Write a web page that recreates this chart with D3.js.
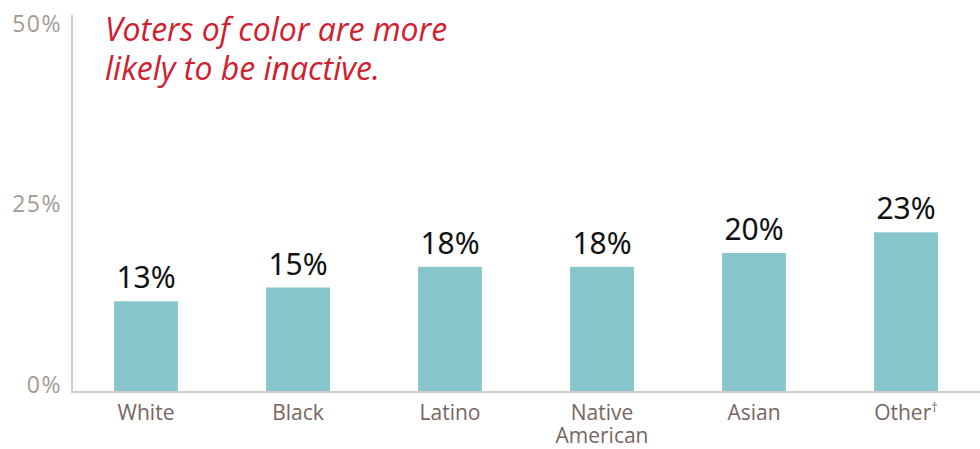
<!DOCTYPE html>
<html lang="en">
<head>
    <meta charset="utf-8">
    <title>Inactive voters</title>
    <script src="https://d3js.org/d3.v7.min.js" charset="utf-8"></script>
    <style type="text/css">
        body { margin: 0; background: white; }
        .tick-label { fill: #a39a93; font-family: "Open Sans", sans-serif; font-size: 23px; letter-spacing: 1.5px; }
        .cat-label { fill: #76665f; font-family: "Open Sans", sans-serif; font-size: 21px; }
        .value { fill: #111; font-family: "Noto Sans", sans-serif; font-size: 30px; }
        .title { fill: #d0202f; font-family: "Open Sans", sans-serif; font-style: italic; font-size: 32px; }
    </style>
</head>
<body>
    <div id="main"></div>
    <script type="text/javascript">
        var categories = ["White", "Black", "Latino", "Native American", "Asian", "Other"];
        var categoryLines = [["White"], ["Black"], ["Latino"], ["Native", "American"], ["Asian"], ["Other"]];
        var values = [13, 15, 18, 18, 20, 23];
        var valueLabels = ["13%", "15%", "18%", "18%", "20%", "23%"];
        var tickValues = [0, 25, 50];
        var tickLabels = ["0%", "25%", "50%"];
        var titleLines = ["Voters of color are more", "likely to be inactive."];

        var width = 980;
        var height = 449;

        var svg = d3.select("div#main")
                    .append("svg")
                    .attr("width", width)
                    .attr("height", height)

        var x = d3.scaleBand()
            .domain(categories)
            .range([70, 982])
            .paddingInner(0.58)
            .paddingOuter(0.29)

        // bars use this one
        var y = d3.scaleLinear().domain([0, 50]).range([391, 46])
        // tick labels sit a little higher than the bar scale
        var yTick = d3.scaleLinear().domain([0, 50]).range([385, 24])

        var data = categories.map(function(c, i){ return {cat: c, value: values[i], label: valueLabels[i], lines: categoryLines[i]} })

        svg.append("g").selectAll("rect")
            .data(data)
            .enter()
            .append("rect")
            .attr("x", function(d){ return x(d.cat) })
            .attr("width", x.bandwidth())
            .attr("y", function(d){ return y(d.value) })
            .attr("height", function(d){ return y(0) - y(d.value) })
            .attr("fill", "#86c6ca")

        // axis lines
        svg.append("line")
            .attr("x1", 72).attr("x2", 72)
            .attr("y1", 15).attr("y2", y(0) + 1)
            .attr("stroke", "#d3cbc8").attr("stroke-width", 2)
        svg.append("line")
            .attr("x1", 71).attr("x2", width)
            .attr("y1", y(0) + 1).attr("y2", y(0) + 1)
            .attr("stroke", "#d3cbc8").attr("stroke-width", 2)

        var yAxis = d3.axisLeft(yTick)
            .tickValues(tickValues)
            .tickSize(0)
            .tickPadding(0)
            .tickFormat(function(d, i){ return tickLabels[i] })

        var ag = svg.append("g")
            .attr("transform", "translate(62,0)")
            .call(yAxis)
        ag.attr("font-size", null).attr("font-family", null)
        ag.select(".domain").remove()
        ag.selectAll("text").attr("class", "tick-label").attr("fill", null)

        svg.append("g").selectAll("text")
            .data(data)
            .enter()
            .append("text")
            .attr("class", "value")
            .attr("text-anchor", "middle")
            .attr("x", function(d){ return x(d.cat) + x.bandwidth()/2 })
            .attr("y", function(d){ return y(d.value) - 13 })
            .text(function(d){ return d.label })

        // category labels, one text per line
        var cg = svg.append("g").selectAll("g")
            .data(data)
            .enter()
            .append("g")
            .attr("transform", function(d){ return "translate(" + (x(d.cat) + x.bandwidth()/2) + ",0)" })

        cg.each(function(d){
            var g = d3.select(this)
            d.lines.forEach(function(line, j){
                var t = g.append("text")
                    .attr("class", "cat-label")
                    .attr("text-anchor", "middle")
                    .attr("y", 420 + j*23)
                    .text(line)
                if (d.cat == "Other") {
                    t.append("tspan").attr("font-size", "13px").attr("dy", -8).text("†")
                }
            })
        })

        svg.append("g").selectAll("text")
            .data(titleLines)
            .enter()
            .append("text")
            .attr("class", "title")
            .attr("x", 105)
            .attr("y", function(d, i){ return 41 + i*39 })
            .text(function(d){ return d })
    </script>
</body>
</html>
